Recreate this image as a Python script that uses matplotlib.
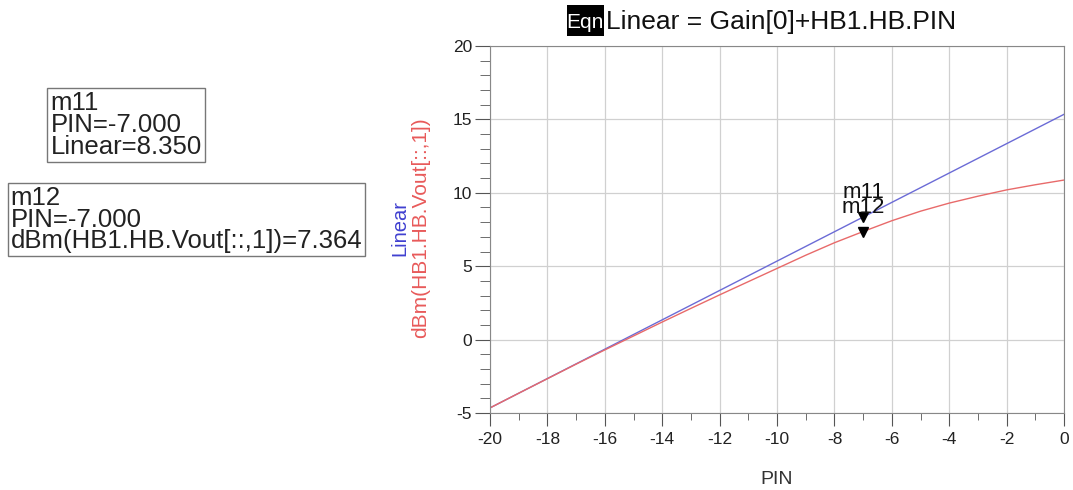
import numpy as np
import matplotlib
matplotlib.use("Agg")
import matplotlib.pyplot as plt
from matplotlib.ticker import MultipleLocator
from matplotlib.patches import Rectangle

plt.rcParams['font.family'] = ['Liberation Sans', 'DejaVu Sans']
plt.rcParams['axes.unicode_minus'] = False

gain = 15.35
pin = [-20, -19, -18, -17, -16, -15, -14, -13, -12, -11, -10, -9, -8, -7, -6, -5, -4, -3, -2, -1, 0]
vout_dbm = [-4.65, -3.65, -2.66, -1.67, -0.70, 0.25, 1.20, 2.13, 3.05, 3.95, 4.85,
            5.75, 6.60, 7.364, 8.10, 8.75, 9.30, 9.77, 10.20, 10.55, 10.87]
linear = [gain + p for p in pin]
m_pin = -7.0
m11_val = 8.350
m12_val = 7.364

fig = plt.figure(figsize=(10.73, 4.9), dpi=100)
ax = fig.add_axes([0.4567, 0.1571, 0.535, 0.749])

ax.plot(pin, linear, color='#6b6bd6', lw=1.0)
ax.plot(pin, vout_dbm, color='#e86a6a', lw=1.0)

ax.set_xlim(-20, 0)
ax.set_ylim(-5, 20)
ax.xaxis.set_major_locator(MultipleLocator(2))
ax.xaxis.set_minor_locator(MultipleLocator(1))
ax.yaxis.set_major_locator(MultipleLocator(5))
ax.yaxis.set_minor_locator(MultipleLocator(1))
ax.grid(True, which='major', color='#d0d0d0', lw=0.9)
for s in ax.spines.values():
    s.set_color('#888888')
ax.tick_params(which='both', direction='out', colors='#555555', labelcolor='#222222', labelsize=12.5)
ax.tick_params(axis='y', which='major', length=11, pad=2)
ax.tick_params(axis='y', which='minor', length=7)
ax.tick_params(axis='x', which='major', length=9, pad=5)
ax.tick_params(axis='x', which='minor', length=5)

# markers
ax.plot([m_pin], [m11_val], marker='v', color='black', ms=7, clip_on=False)
ax.plot([m_pin], [m12_val], marker='v', color='black', ms=7, clip_on=False)
ax.annotate('m11', (m_pin, m11_val), xytext=(0, 18), textcoords='offset points',
            ha='center', va='center', fontsize=16, color='#111111')
ax.annotate('m12', (m_pin, m12_val), xytext=(0, 17), textcoords='offset points',
            ha='center', va='center', fontsize=16, color='#111111')

ax.set_xlabel('PIN', fontsize=14, color='#333333', labelpad=17)

fig.text(0.373, 0.535, 'Linear', rotation=90, color='#4040d0', fontsize=14.5, ha='center', va='center')
fig.text(0.392, 0.535, 'dBm(HB1.HB.Vout[::,1])', rotation=90, color='#e85a5a', fontsize=15,
         ha='center', va='center')

# title with Eqn box
fig.add_artist(Rectangle((0.5285, 0.927), 0.034, 0.062, transform=fig.transFigure,
                         fc='black', ec='none'))
fig.text(0.5455, 0.955, 'Eqn', color='white', fontsize=15, ha='center', va='center')
fig.text(0.5645, 0.955, 'Linear = Gain[0]+HB1.HB.PIN', color='#111111', fontsize=19,
         ha='left', va='center')

# marker readout boxes
fig.text(0.047, 0.745, 'm11\nPIN=-7.000\nLinear=%.3f' % m11_val, fontsize=18.5, color='#222222',
         ha='left', va='center', linespacing=0.88,
         bbox=dict(boxstyle='square,pad=0.12', fc='white', ec='#777777'))
fig.text(0.010, 0.552, 'm12\nPIN=-7.000\ndBm(HB1.HB.Vout[::,1])=%.3f' % m12_val, fontsize=18.5,
         color='#222222', ha='left', va='center', linespacing=0.88,
         bbox=dict(boxstyle='square,pad=0.12', fc='white', ec='#777777'))

fig.savefig('out.png', dpi=100)
